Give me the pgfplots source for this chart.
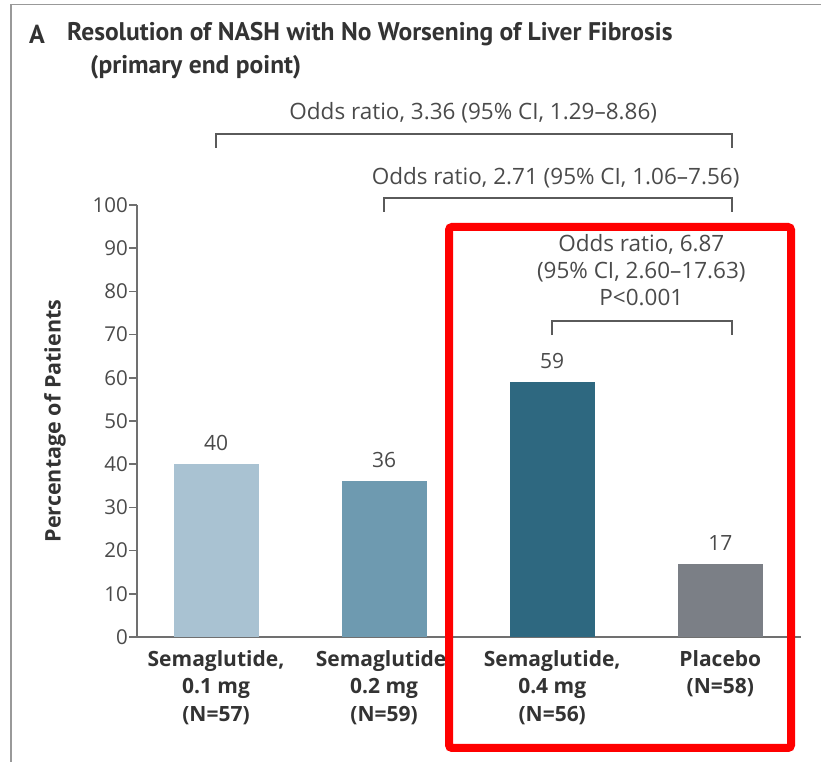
\documentclass[border=0pt]{standalone}
\usepackage{pgfplots}
\pgfplotsset{compat=1.18}
\usepackage{fontspec}
\setmainfont{Open Sans}
\newfontfamily\titlefont{PT Sans}
\definecolor{barA}{HTML}{A9C2D2}
\definecolor{barB}{HTML}{6E9AB0}
\definecolor{barC}{HTML}{2E6880}
\definecolor{barD}{HTML}{7B7F86}
\definecolor{axgray}{HTML}{707070}
\definecolor{txtgray}{HTML}{4A4A4A}
\definecolor{darktxt}{HTML}{333333}
\definecolor{brgray}{HTML}{5A5A5A}
\begin{document}
\begin{tikzpicture}
\path[use as bounding box] (0pt,0pt) rectangle (821pt,762pt);
% screenshot frame
\draw[color=gray!80, line width=1.5pt] (11pt,0pt) -- (11pt,757.5pt) -- (821pt,757.5pt);
% title
\node[anchor=west, text=darktxt, inner sep=0pt] at (29pt,728pt) {\titlefont\fontsize{26}{30}\selectfont\bfseries A};
\node[anchor=west, text=darktxt, inner sep=0pt] at (67pt,728pt) {\titlefont\fontsize{25.5}{30}\selectfont\bfseries Resolution of NASH with No Worsening of Liver Fibrosis};
\node[anchor=west, text=darktxt, inner sep=0pt] at (90pt,695pt) {\titlefont\fontsize{25.5}{30}\selectfont\bfseries (primary end point)};
\begin{axis}[
  at={(137pt,125pt)}, anchor=south west,
  scale only axis, width=664pt, height=432pt,
  xmin=-0.47, xmax=3.48, ymin=0, ymax=100,
  axis lines*=left,
  axis line style={color=axgray, line width=1.8pt},
  ytick={0,10,...,100},
  tick align=outside,
  major tick length=8pt,
  y tick style={color=axgray, line width=1.6pt},
  x tick style={draw=none},
  /pgf/number format/assume math mode=true,
  yticklabel style={font=\fontsize{20.5}{22}\selectfont, text=txtgray, inner sep=1pt},
  xtick={0,1,2,3},
  xticklabels={{Semaglutide,\\0.1 mg\\(N=57)},{Semaglutide,\\0.2 mg\\(N=59)},{Semaglutide,\\0.4 mg\\(N=56)},{Placebo\\(N=58)}},
  xticklabel style={align=center, font=\fontsize{21}{27.5}\selectfont\bfseries, text=darktxt, anchor=north, yshift=-2pt},
  ylabel={Percentage of Patients},
  ylabel style={at={(axis description cs:-0.1235,0.5)}, anchor=center, font=\fontsize{21.5}{22}\selectfont\bfseries, text=darktxt},
  ybar, bar width=85pt, bar shift=0pt,
  nodes near coords,
  every node near coord/.style={anchor=center, yshift=21pt, font=\fontsize{21}{22}\selectfont, text=txtgray},
  clip=false,
]
\addplot[fill=barA, draw=none] coordinates {(0,40)};
\addplot[fill=barB, draw=none] coordinates {(1,36)};
\addplot[fill=barC, draw=none] coordinates {(2,59)};
\addplot[fill=barD, draw=none] coordinates {(3,17)};
% brackets
\draw[brgray, line width=1.6pt] (axis cs:0,113.2) -- (axis cs:0,116.4) -- (axis cs:3.07,116.4) -- (axis cs:3.07,113.2);
\draw[brgray, line width=1.6pt] (axis cs:1,98.4) -- (axis cs:1,101.6) -- (axis cs:3.07,101.6) -- (axis cs:3.07,98.4);
\draw[brgray, line width=1.6pt] (axis cs:2,69.9) -- (axis cs:2,73.1) -- (axis cs:3.07,73.1) -- (axis cs:3.07,69.9);
\node[text=txtgray, font=\fontsize{22.5}{22}\selectfont] at (axis cs:1.53,121.3) {Odds ratio, 3.36 (95\% CI, 1.29--8.86)};
\node[text=txtgray, font=\fontsize{22.5}{22}\selectfont] at (axis cs:2.02,106.3) {Odds ratio, 2.71 (95\% CI, 1.06--7.56)};
\node[text=txtgray, font=\fontsize{22.5}{27}\selectfont, align=center] at (axis cs:2.53,85.0) {Odds ratio, 6.87\\(95\% CI, 2.60--17.63)\\P<0.001};
\end{axis}
% highlight box
\draw[red, line width=8pt, rounded corners=3pt] (449pt,535pt) rectangle (791pt,14pt);
\end{tikzpicture}
\end{document}
